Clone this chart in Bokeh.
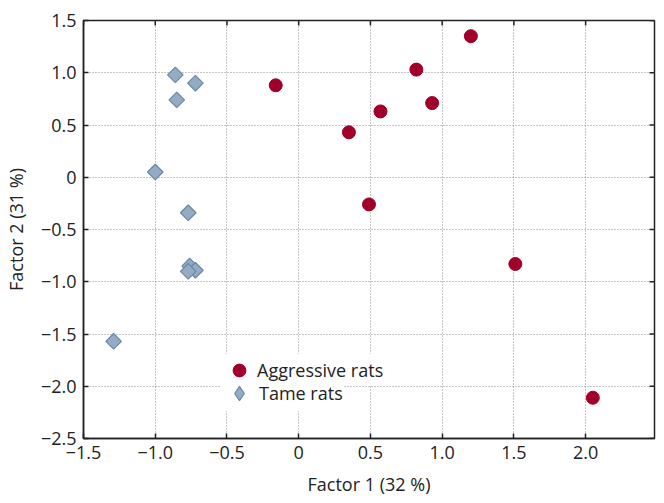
import math
from bokeh.plotting import figure
from bokeh.models import ColumnDataSource, FixedTicker, Range1d, Legend, LegendItem
from bokeh.embed import file_html
from bokeh.resources import INLINE

agg_x = [1.20, 0.82, 0.93, 0.57, 0.35, -0.16, 0.49, 1.51, 2.05]
agg_y = [1.35, 1.03, 0.71, 0.63, 0.43, 0.88, -0.26, -0.83, -2.11]
tame_x = [-0.86, -0.72, -0.85, -1.00, -0.77, -0.76, -0.72, -0.77, -1.29]
tame_y = [0.98, 0.90, 0.74, 0.05, -0.34, -0.85, -0.89, -0.90, -1.57]

x_ticks = [-1.5, -1.0, -0.5, 0, 0.5, 1.0, 1.5, 2.0]
x_labels = ["\u22121.5", "\u22121.0", "\u22120.5", "0", "0.5", "1.0", "1.5", "2.0"]
y_ticks = [-2.5, -2.0, -1.5, -1.0, -0.5, 0, 0.5, 1.0, 1.5]
y_labels = ["\u22122.5", "\u22122.0", "\u22121.5", "\u22121.0", "\u22120.5", "0", "0.5", "1.0", "1.5"]

X_MIN, X_MAX = -1.5, 2.48
Y_MIN, Y_MAX = -2.5, 1.5

FONT = "Open Sans"
FS = "18px"
INK = "#222222"
RED = "#a0002a"
BLUE_FILL = "#94abc3"
BLUE_LINE = "#6a88a6"

p = figure(width=664, height=503, output_backend="svg", toolbar_location=None,
           x_range=Range1d(X_MIN, X_MAX), y_range=Range1d(Y_MIN, Y_MAX),
           min_border_left=82, min_border_right=10, min_border_top=20, min_border_bottom=65,
           background_fill_color="white", border_fill_color="white")
p.outline_line_color = INK
p.outline_line_width = 1.5

for ax in p.xaxis:
    ax.ticker = FixedTicker(ticks=x_ticks)
    ax.major_label_overrides = {t: l for t, l in zip(x_ticks, x_labels)}
    ax.axis_label = "Factor 1 (32 %)"
for ax in p.yaxis:
    ax.ticker = FixedTicker(ticks=y_ticks)
    ax.major_label_overrides = {t: l for t, l in zip(y_ticks, y_labels)}
    ax.axis_label = "Factor 2 (31 %)"

for ax in list(p.xaxis) + list(p.yaxis):
    ax.major_tick_in = 5
    ax.major_tick_out = 0
    ax.minor_tick_line_color = None
    ax.axis_line_color = INK
    ax.axis_line_width = 1.5
    ax.major_tick_line_color = INK
    ax.major_tick_line_width = 1.5
    ax.major_label_text_font = FONT
    ax.major_label_text_font_size = FS
    ax.major_label_text_color = INK
    ax.axis_label_text_font = FONT
    ax.axis_label_text_font_size = FS
    ax.axis_label_text_font_style = "normal"
    ax.axis_label_text_color = INK
    ax.major_label_standoff = 7
    ax.axis_label_standoff = 10

p.xgrid.ticker = FixedTicker(ticks=x_ticks)
p.ygrid.ticker = FixedTicker(ticks=y_ticks)
for g in (p.xgrid, p.ygrid):
    g.grid_line_color = "#8f8f8f"
    g.grid_line_dash = "1 2"
    g.grid_line_width = 1

# mirrored inward ticks on top and right edges (clipped to the frame)
p.scatter(x=x_ticks, y=[Y_MAX] * len(x_ticks), marker="dash", angle=math.pi / 2,
          size=10, line_color=INK, line_width=1.5)
p.scatter(x=[X_MAX] * len(y_ticks), y=y_ticks, marker="dash",
          size=10, line_color=INK, line_width=1.5)

src_a = ColumnDataSource(dict(x=agg_x, y=agg_y))
src_t = ColumnDataSource(dict(x=tame_x, y=tame_y))
# diamond glyph used for the legend swatch; hidden beneath the rotated squares
rt_legend = p.scatter("x", "y", source=src_t, marker="diamond", size=10,
                      fill_color=BLUE_FILL, line_color=BLUE_LINE, line_width=1.2)
p.scatter("x", "y", source=src_t, marker="square", angle=math.pi / 4, size=11,
          fill_color=BLUE_FILL, line_color=BLUE_LINE, line_width=1.2)
ra = p.scatter("x", "y", source=src_a, marker="circle", size=13,
               fill_color=RED, line_color=RED)

common = dict(border_line_color=None, background_fill_color="white", background_fill_alpha=1,
              label_text_font=FONT, label_text_font_size=FS, label_text_color=INK,
              label_standoff=2, spacing=0, padding=0, margin=0, label_height=20)

legend_tame = Legend(items=[LegendItem(label="Tame rats", renderers=[rt_legend])],
                     location=(138, 27), glyph_width=36, glyph_height=36, **common)
legend_agg = Legend(items=[LegendItem(label="Aggressive rats", renderers=[ra])],
                    location=(140, 52), glyph_width=32, glyph_height=32, **common)
p.add_layout(legend_tame, "center")
p.add_layout(legend_agg, "center")

open("out.html", "w").write(file_html(p, INLINE))
